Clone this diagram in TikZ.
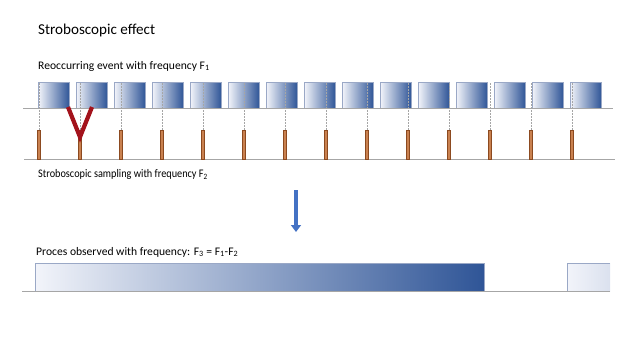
\documentclass[tikz,border=0pt]{standalone}
\usepackage{fontspec}
\usepackage{graphicx}
\setmainfont{Carlito}
\usetikzlibrary{arrows.meta}
\definecolor{dkblue}{HTML}{2F5597}
\definecolor{ltblue}{HTML}{F2F4FA}
\definecolor{boxline}{HTML}{9AA8C6}
\definecolor{baseln}{HTML}{A6A6A6}
\definecolor{barfill}{HTML}{C98150}
\definecolor{barline}{HTML}{8C4A20}
\definecolor{vred}{HTML}{A3131C}
\definecolor{arrblue}{HTML}{4472C4}
\tikzset{
  evbox/.style={draw=boxline, line width=0.6pt, left color=ltblue, right color=dkblue,
    minimum width=31pt, minimum height=26pt, inner sep=0pt, anchor=north west},
  sampbar/.style={draw=barline, fill=barfill, line width=0.4pt, minimum width=3pt,
    minimum height=29pt, inner sep=0pt, anchor=south},
  baseline/.style={draw=baseln, line width=0.8pt},
  guide/.style={draw=gray!70, line width=0.5pt, dash pattern=on 1.5pt off 1.5pt},
  vmark/.style={draw=vred, line width=4.2pt, line join=miter},
  downarrow/.style={draw=arrblue, line width=4pt, -{Triangle[width=10pt,length=7pt]}},
  lbl/.style={anchor=base west, inner sep=0pt, font=\fontsize{11.6}{14}\selectfont},
}
\begin{document}
\begin{tikzpicture}[x=1pt,y=-1pt]
\useasboundingbox (0,0) rectangle (640,360);
% title
\node[anchor=base west, inner sep=0pt, font=\fontsize{15.1}{18}\selectfont] (title) at (38,34) {Stroboscopic effect};
\node[lbl] (lab1) at (38,69) {Reoccurring event with frequency F\textsubscript{1}};
\node[lbl] (lab2) at (38,177.5) {\scalebox{0.885}[1]{Stroboscopic sampling with frequency F\textsubscript{2}}};
\node[lbl] (lab3) at (36,255) {Proces observed with frequency: F\textsubscript{3} = F\textsubscript{1}-F\textsubscript{2}};
% event boxes
\foreach \i in {0,...,14} {
  \node[evbox] (b\i) at ({38+38*\i},82) {};
}
% baselines
\coordinate (l1a) at (23,108); \coordinate (l1b) at (613,108);
\draw[baseline] (l1a) -- (l1b);
\coordinate (l2a) at (24,159); \coordinate (l2b) at (615,159);
\draw[baseline] (l2a) -- (l2b);
% sampling bars and guides
\foreach \i in {0,...,13} {
  \coordinate (t\i) at ({39+41*\i},82);
  \node[sampbar] (s\i) at ({39+41*\i},159) {};
  \draw[guide] (s\i.north) -- (t\i);
}
% red V
\coordinate (va) at (68,107);
\coordinate (vb) at (80,137);
\coordinate (vc) at (92,107);
\draw[vmark] (va) -- (vb) -- (vc);
% arrow
\coordinate (ar1) at (296,190);
\coordinate (ar2) at (296,232);
\draw[downarrow] (ar1) -- (ar2);
% observed process
\node[draw=boxline, line width=0.6pt, left color=ltblue, right color=dkblue,
  minimum width=449pt, minimum height=28pt, inner sep=0pt, anchor=north west] (obs) at (35,263) {};
\node[left color=ltblue, right color=ltblue!80!dkblue!60!ltblue, minimum width=43pt,
  minimum height=28pt, inner sep=0pt, anchor=north west] (obs2) at (567,263) {};
\draw[draw=boxline, line width=0.6pt] (obs2.south west) -- (obs2.north west) -- (obs2.north east);
\coordinate (l3a) at (22,291); \coordinate (l3b) at (610,291);
\draw[baseline] (l3a) -- (l3b);
\end{tikzpicture}
\end{document}
